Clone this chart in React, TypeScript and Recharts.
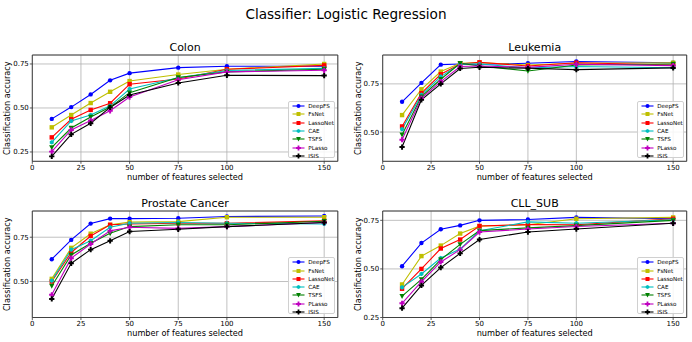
import React from 'react';
import { LineChart, Line, XAxis, YAxis, CartesianGrid, ReferenceArea } from 'recharts';

const features = [10, 20, 30, 40, 50, 75, 100, 150];
const methods = ['DeepFS', 'FsNet', 'LassoNet', 'CAE', 'TSFS', 'PLasso', 'ISIS'];
const xTicks = [0, 25, 50, 75, 100, 150];
const yTicks = [0.25, 0.5, 0.75];

const colonAcc = [
  [0.438, 0.505, 0.577, 0.657, 0.698, 0.729, 0.737, 0.737],
  [0.39, 0.46, 0.528, 0.592, 0.653, 0.69, 0.72, 0.75],
  [0.333, 0.436, 0.489, 0.527, 0.635, 0.665, 0.72, 0.742],
  [0.305, 0.426, 0.46, 0.512, 0.608, 0.672, 0.713, 0.725],
  [0.276, 0.386, 0.449, 0.505, 0.587, 0.673, 0.705, 0.72],
  [0.252, 0.375, 0.429, 0.484, 0.562, 0.66, 0.705, 0.714],
  [0.225, 0.35, 0.413, 0.503, 0.574, 0.642, 0.686, 0.684],
];

const leukemiaAcc = [
  [0.657, 0.755, 0.85, 0.853, 0.852, 0.857, 0.866, 0.86],
  [0.588, 0.722, 0.814, 0.857, 0.86, 0.848, 0.857, 0.86],
  [0.529, 0.702, 0.8, 0.853, 0.862, 0.843, 0.86, 0.848],
  [0.515, 0.693, 0.788, 0.853, 0.853, 0.833, 0.84, 0.834],
  [0.486, 0.684, 0.774, 0.857, 0.843, 0.817, 0.848, 0.853],
  [0.46, 0.676, 0.762, 0.84, 0.843, 0.836, 0.852, 0.845],
  [0.422, 0.667, 0.75, 0.83, 0.836, 0.831, 0.824, 0.833],
];

const prostateAcc = [
  [0.626, 0.735, 0.827, 0.855, 0.855, 0.857, 0.867, 0.87],
  [0.515, 0.69, 0.77, 0.82, 0.835, 0.838, 0.863, 0.863],
  [0.5, 0.664, 0.757, 0.82, 0.825, 0.829, 0.829, 0.842],
  [0.505, 0.68, 0.73, 0.806, 0.829, 0.833, 0.829, 0.825],
  [0.475, 0.65, 0.716, 0.772, 0.81, 0.82, 0.82, 0.84],
  [0.425, 0.632, 0.712, 0.786, 0.806, 0.8, 0.81, 0.833],
  [0.402, 0.603, 0.68, 0.73, 0.782, 0.795, 0.81, 0.833],
];

const cllAcc = [
  [0.514, 0.633, 0.704, 0.724, 0.75, 0.754, 0.765, 0.758],
  [0.42, 0.566, 0.62, 0.682, 0.72, 0.727, 0.758, 0.765],
  [0.398, 0.5, 0.605, 0.651, 0.721, 0.728, 0.727, 0.758],
  [0.405, 0.474, 0.556, 0.602, 0.696, 0.742, 0.735, 0.753],
  [0.36, 0.446, 0.548, 0.626, 0.697, 0.711, 0.723, 0.75],
  [0.323, 0.434, 0.536, 0.599, 0.69, 0.705, 0.718, 0.735],
  [0.298, 0.415, 0.507, 0.58, 0.651, 0.69, 0.705, 0.735],
];

const colors = ['#0000ff', '#bfbf00', '#ff0000', '#00bfbf', '#008000', '#bf00bf', '#000000'];
const shapes = ['o', 's', 's', 'h', 'v', 'P', 'P'];
const FONT = '"DejaVu Sans", sans-serif';
const W = 692;
const H = 342;

function buildRows(acc: number[][]) {
  return features.map((f, i) => {
    const row: any = { x: f };
    methods.forEach((m, k) => {
      row[m] = acc[k][i];
    });
    return row;
  });
}

function MarkerShape({ cx, cy, color, shape, r = 2.2 }: any) {
  if (cx == null || cy == null) return null;
  if (shape === 'o') return <circle cx={cx} cy={cy} r={r} fill={color} />;
  if (shape === 's') return <rect x={cx - r} y={cy - r} width={2 * r} height={2 * r} fill={color} />;
  if (shape === 'v')
    return <polygon points={`${cx - r * 1.2},${cy - r} ${cx + r * 1.2},${cy - r} ${cx},${cy + r * 1.3}`} fill={color} />;
  if (shape === 'h') {
    const pts = [0, 1, 2, 3, 4, 5]
      .map((i) => {
        const a = (Math.PI / 3) * i + Math.PI / 6;
        return `${cx + r * 1.05 * Math.cos(a)},${cy + r * 1.05 * Math.sin(a)}`;
      })
      .join(' ');
    return <polygon points={pts} fill={color} />;
  }
  const a = r * 1.2;
  const b = r * 0.45;
  const p = `${cx - b},${cy - a} ${cx + b},${cy - a} ${cx + b},${cy - b} ${cx + a},${cy - b} ${cx + a},${cy + b} ${cx + b},${cy + b} ${cx + b},${cy + a} ${cx - b},${cy + a} ${cx - b},${cy + b} ${cx - a},${cy + b} ${cx - a},${cy - b} ${cx - b},${cy - b}`;
  return <polygon points={p} fill={color} />;
}

type PanelProps = {
  title: string;
  acc: number[][];
  yDomain: [number, number];
  left: number;
  top: number;
  right: number;
  bottom: number;
};

function Panel({ title, acc, yDomain, left, top, right, bottom }: PanelProps) {
  const data = buildRows(acc);
  const yAxisW = 30;
  const xAxisH = 25;
  const ticks = yTicks.filter((t) => t >= yDomain[0] - 1e-9 && t <= yDomain[1] + 1e-9);
  const legW = 46.5;
  const legH = 57.5;
  const legLeft = right - 3 - legW;
  const legTop = bottom - 3.3 - legH;
  return (
    <>
      <div style={{ position: 'absolute', left: 0, top: 0, width: W, height: H }}>
        <LineChart
          width={W}
          height={H}
          data={data}
          margin={{ top, left: left - yAxisW, right: W - right, bottom: H - bottom - xAxisH }}
        >
          <CartesianGrid stroke="#b0b0b0" strokeWidth={0.8} />
          <XAxis
            dataKey="x"
            type="number"
            domain={[0, 157]}
            ticks={xTicks}
            allowDataOverflow
            height={xAxisH}
            axisLine={false}
            tickLine={{ stroke: '#333', strokeWidth: 0.8 }}
            tickSize={2.5}
            tickMargin={1.5}
            tick={{ fontSize: 7, fill: '#000', fontFamily: FONT }}
            interval={0}
            label={{
              value: 'number of features selected',
              content: (p: any) => {
                const vb = p.viewBox || {};
                return (
                  <text
                    x={vb.x + vb.width / 2}
                    y={vb.y + 15.5}
                    textAnchor="middle"
                    dominantBaseline="central"
                    fontSize={8.2}
                    fontFamily={FONT}
                    fill="#000"
                  >
                    number of features selected
                  </text>
                );
              },
            }}
          />
          <YAxis
            type="number"
            domain={yDomain}
            ticks={ticks}
            allowDataOverflow
            width={yAxisW}
            axisLine={false}
            tickLine={{ stroke: '#333', strokeWidth: 0.8 }}
            tickSize={2.5}
            tickMargin={1}
            tick={{ fontSize: 7, fill: '#000', fontFamily: FONT }}
            tickFormatter={(v: number) => v.toFixed(2)}
            interval={0}
            label={{
              value: 'Classification accuracy',
              content: (p: any) => {
                const vb = p.viewBox || {};
                const cx = vb.x + vb.width - 25;
                const cy = vb.y + vb.height / 2;
                return (
                  <text
                    x={cx}
                    y={cy}
                    transform={`rotate(-90 ${cx} ${cy})`}
                    textAnchor="middle"
                    dominantBaseline="central"
                    fontSize={8.2}
                    fontFamily={FONT}
                    fill="#000"
                  >
                    Classification accuracy
                  </text>
                );
              },
            }}
          />
          {methods.map((m, k) => (
            <Line
              key={m}
              type="linear"
              dataKey={m}
              stroke={colors[k]}
              strokeWidth={1.1}
              isAnimationActive={false}
              dot={(p: any) => (
                <MarkerShape key={`${m}-${p.index}`} cx={p.cx} cy={p.cy} color={colors[k]} shape={shapes[k]} />
              )}
              activeDot={false}
            />
          ))}
          <ReferenceArea
            x1={0}
            x2={157}
            y1={yDomain[0]}
            y2={yDomain[1]}
            fill="none"
            fillOpacity={0}
            stroke="#333"
            strokeWidth={0.9}
            ifOverflow="visible"
          />
        </LineChart>
      </div>
      <div
        style={{
          position: 'absolute',
          left: (left + right) / 2 - 100,
          width: 200,
          top: top - 15,
          height: 16,
          lineHeight: '16px',
          textAlign: 'center',
          fontFamily: FONT,
          fontSize: 11,
          color: '#000',
        }}
      >
        {title}
      </div>
      <div
        style={{
          position: 'absolute',
          left: legLeft,
          top: legTop,
          width: legW,
          height: legH,
          boxSizing: 'border-box',
          border: '0.8px solid #d0d0d0',
          borderRadius: 2,
          background: 'rgba(255,255,255,0.85)',
          fontFamily: FONT,
          fontSize: 5.6,
          color: '#000',
          paddingTop: 0.4,
        }}
      >
        {methods.map((m, k) => (
          <div key={m} style={{ height: 8.3, display: 'flex', alignItems: 'center', whiteSpace: 'nowrap' }}>
            <svg width={17} height={8} style={{ marginLeft: 2, flex: 'none' }}>
              <line x1={1.5} y1={4} x2={13.5} y2={4} stroke={colors[k]} strokeWidth={1.1} />
              <MarkerShape cx={7.5} cy={4} color={colors[k]} shape={shapes[k]} r={2} />
            </svg>
            <span style={{ lineHeight: '8px' }}>{m}</span>
          </div>
        ))}
      </div>
    </>
  );
}

export default function App() {
  return (
    <div style={{ position: 'absolute', left: 0, top: 0, width: W, height: H, background: '#fff', overflow: 'hidden' }}>
      <div
        style={{
          position: 'absolute',
          left: 0,
          width: W,
          top: 4,
          height: 20,
          lineHeight: '20px',
          textAlign: 'center',
          fontFamily: FONT,
          fontSize: 13.6,
          color: '#000',
        }}
      >
        Classifier: Logistic Regression
      </div>
      <Panel title="Colon" acc={colonAcc} yDomain={[0.197, 0.801]} left={32.3} top={55} right={337.8} bottom={161.3} />
      <Panel title="Leukemia" acc={leukemiaAcc} yDomain={[0.348, 0.9]} left={382.7} top={55} right={686.7} bottom={161.3} />
      <Panel title="Prostate Cancer" acc={prostateAcc} yDomain={[0.297, 0.898]} left={32.3} top={211} right={337.8} bottom={317.5} />
      <Panel title="CLL_SUB" acc={cllAcc} yDomain={[0.25, 0.798]} left={382.7} top={211} right={686.7} bottom={317.5} />
    </div>
  );
}
